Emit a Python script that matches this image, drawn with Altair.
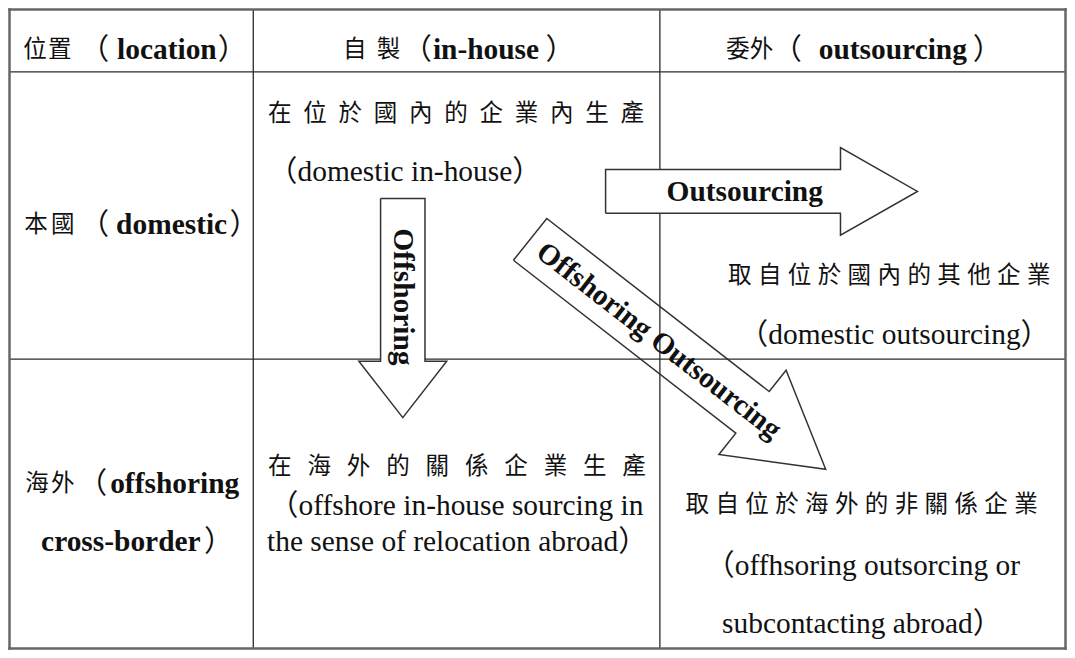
import math
import altair as alt
import pandas as pd

# ---------------- content (text of the diagram) ----------------
COL_HEAD_ZH = ["位置", "自製", "委外"]
COL_HEAD_EN = ["location", "in-house", "outsourcing"]
ROW_HEAD_ZH = ["本國", "海外"]
ROW_HEAD_EN = ["domestic", "offshoring", "cross-border"]
CELL_ZH = ["在位於國內的企業內生產", "取自位於國內的其他企業",
           "在海外的關係企業生產", "取自位於海外的非關係企業"]
CELL_EN = ["（domestic in-house）", "（domestic outsourcing）",
           "（offshore in-house sourcing in", "the sense of relocation abroad）",
           "（offhsoring outsorcing or", "subcontacting abroad）"]
ARROW_LABELS = ["Outsourcing", "Offshoring", "Offshoring Outsourcing"]
OPEN_P, CLOSE_P = "（", "）"

# ---------------- layout (reference pixel frame) ----------------
W, H = 1059, 642
X_DOM, X_RNG = [3, 1073], [1.5, 1057.5]
Y_DOM, Y_RNG = [1, 657], [1.5, 640.5]
SX = (X_RNG[1] - X_RNG[0]) / (X_DOM[1] - X_DOM[0])
SY = (Y_RNG[1] - Y_RNG[0]) / (Y_DOM[1] - Y_DOM[0])
K = (SX + SY) / 2

ZH_FONT = "Noto Sans CJK TC"
SERIF = "Liberation Serif, Noto Sans CJK TC"
ZH_SIZE = 24 * K
EN_SIZE = 30 * K
INK = "#111111"

GRID_X = [3, 250, 662, 1073]
GRID_Y = [1, 65, 360, 657]

# arrows: tail centre, tip, shaft half width, head half width, head length
ARROWS = [
    dict(name="out", tail=(607, 187.75), tip=(923, 187.75), s=22.5, h=45, hl=78, fill=True),
    dict(name="off", tail=(401.5, 195), tip=(401.5, 420), s=22.5, h=44.5, hl=58, fill=True),
    dict(name="diag", tail=(530.5, 237), tip=(830, 473), s=27.3, h=55, hl=94.4, fill=False),
]
LABEL_POS = [(748, 188), (402, 296), (661, 341)]

ZH_POS = [(17, 42, 43), (341, 375, 43), (729, 753, 43), (18, 45, 222), (19, 45, 488),
          (265, 622, 108), (731, 1034, 275), (265, 624, 471), (688, 1021, 510)]
OPEN_POS = [(104, 43), (431, 43), (806, 43), (104, 222), (102, 488)]
CLOSE_POS = [(214, 43), (546, 43), (979, 43), (226, 222), (200, 548)]
BOLD_POS = [(112, 43), (432, 43), (823, 43), (111, 222), (105, 488), (35, 548)]
EN_POS = [(265, 168), (742, 335), (266, 511), (264, 548), (708, 572), (725, 632)]


def xq(f="x"):
    return alt.X(f"{f}:Q", scale=alt.Scale(domain=X_DOM, range=X_RNG, nice=False, zero=False), axis=None)


def yq(f="y"):
    return alt.Y(f"{f}:Q", scale=alt.Scale(domain=Y_DOM, range=Y_RNG, nice=False, zero=False), axis=None)


# ---------------- grid ----------------
rules = []
for i, gx in enumerate(GRID_X):
    rules.append(dict(x=gx, x2=gx, y=GRID_Y[0], y2=GRID_Y[-1], outer=i in (0, len(GRID_X) - 1)))
for i, gy in enumerate(GRID_Y):
    rules.append(dict(x=GRID_X[0], x2=GRID_X[-1], y=gy, y2=gy, outer=i in (0, len(GRID_Y) - 1)))
rules = pd.DataFrame(rules)

inner = alt.Chart(rules[~rules.outer]).mark_rule(color="#2a2a2a", strokeWidth=1.3).encode(
    x=xq(), x2="x2:Q", y=yq(), y2="y2:Q")
outer = alt.Chart(rules[rules.outer]).mark_rule(color="#666666", strokeWidth=2.5, strokeCap="square").encode(
    x=xq(), x2="x2:Q", y=yq(), y2="y2:Q")

# ---------------- arrows ----------------
outline_rows, shaft_rows = [], []
for a in ARROWS:
    tx, ty = a["tail"]
    px, py = a["tip"]
    L = math.hypot(px - tx, py - ty)
    ux, uy = (px - tx) / L, (py - ty) / L
    nx, ny = -uy, ux
    bx, by = px - ux * a["hl"], py - uy * a["hl"]
    s, h = a["s"], a["h"]
    pts = [(tx + nx * s, ty + ny * s), (bx + nx * s, by + ny * s), (bx + nx * h, by + ny * h),
           (px, py), (bx - nx * h, by - ny * h), (bx - nx * s, by - ny * s),
           (tx - nx * s, ty - ny * s)]
    pts.append(pts[0])
    for i, (x, y) in enumerate(pts):
        outline_rows.append(dict(name=a["name"], i=i, x=x, y=y, fill=a["fill"]))
    if a["fill"]:
        xs = [pts[0][0], pts[1][0], pts[5][0], pts[6][0]]
        ys = [pts[0][1], pts[1][1], pts[5][1], pts[6][1]]
        shaft_rows.append(dict(x=min(xs), x2=max(xs), y=min(ys), y2=max(ys)))
outline = pd.DataFrame(outline_rows)
shafts = pd.DataFrame(shaft_rows)


def arrow_lines(df):
    return alt.Chart(df).mark_line(color="#333333", strokeWidth=1.5, strokeJoin="miter").encode(
        x=xq(), y=yq(), detail="name:N", order=alt.Order("i:Q"))


diag_arrow = arrow_lines(outline[~outline.fill])
main_arrows = arrow_lines(outline[outline.fill])
shaft_fill = alt.Chart(shafts).mark_rect(color="white").encode(x=xq(), x2="x2:Q", y=yq(), y2="y2:Q")

# ---------------- texts ----------------
zh_items = []
for text, (x0, x1, y) in zip(COL_HEAD_ZH + ROW_HEAD_ZH + CELL_ZH, ZH_POS):
    n = len(text)
    step = (x1 - x0) / (n - 1) if n > 1 else 0
    for i, c in enumerate(text):
        zh_items.append(dict(t=c, x=x0 + i * step, y=y))
zh_df = pd.DataFrame(zh_items)

open_df = pd.DataFrame([dict(t=OPEN_P, x=x, y=y) for x, y in OPEN_POS])
close_df = pd.DataFrame([dict(t=CLOSE_P, x=x, y=y) for x, y in CLOSE_POS])
bold_df = pd.DataFrame([dict(t=t, x=x, y=y) for t, (x, y) in zip(COL_HEAD_EN + ROW_HEAD_EN, BOLD_POS)])
en_df = pd.DataFrame([dict(t=t, x=x, y=y) for t, (x, y) in zip(CELL_EN, EN_POS)])

angles = []
for a in ARROWS:
    (tx, ty), (px, py) = a["tail"], a["tip"]
    ang = math.degrees(math.atan2((py - ty) * SY, (px - tx) * SX))
    angles.append(round(ang, 2))
lab_df = pd.DataFrame([dict(t=t, x=x, y=y, angle=ang)
                       for t, (x, y), ang in zip(ARROW_LABELS, LABEL_POS, angles)])


def txt(df, **kw):
    return alt.Chart(df).mark_text(baseline="middle", color=INK, **kw).encode(
        x=xq(), y=yq(), text="t:N")


zh_text = txt(zh_df, font=ZH_FONT, fontSize=ZH_SIZE, align="left")
open_text = txt(open_df, font=ZH_FONT, fontSize=EN_SIZE, align="right")
close_text = txt(close_df, font=ZH_FONT, fontSize=EN_SIZE, align="left")
bold_text = txt(bold_df, font=SERIF, fontSize=EN_SIZE, fontWeight="bold", align="left")
en_text = txt(en_df, font=SERIF, fontSize=EN_SIZE, align="left")
label_text = alt.Chart(lab_df).mark_text(baseline="middle", align="center", color=INK, font=SERIF,
                                         fontSize=EN_SIZE, fontWeight="bold").encode(
    x=xq(), y=yq(), text="t:N", angle=alt.Angle("angle:Q", scale=None))

chart = alt.layer(
    diag_arrow, inner, outer, shaft_fill, main_arrows,
    zh_text, open_text, close_text, bold_text, en_text, label_text,
).properties(
    width=W, height=H, padding=0, autosize=alt.AutoSizeParams(type="none"), background="white"
).configure_view(stroke=None)

chart.save("out.html", embed_options={"renderer": "svg", "actions": False})
